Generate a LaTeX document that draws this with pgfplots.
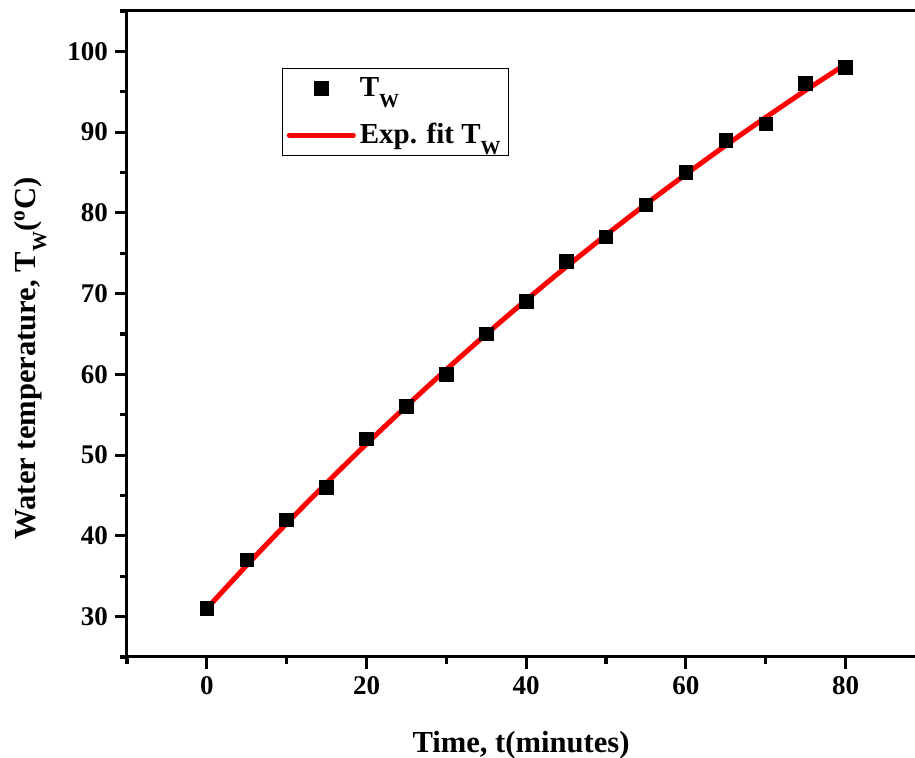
\documentclass[border=0pt]{standalone}
\usepackage{fontspec}
\setmainfont{Liberation Serif}
\usepackage{pgfplots}
\pgfplotsset{compat=1.18}

\definecolor{fitred}{RGB}{255,0,0}
% lowered subscript W, as in the original figure
\newcommand{\subW}{\raisebox{-5.5pt}{\fontsize{10}{10}\selectfont\bfseries W}}

\begin{document}
\begin{tikzpicture}
\begin{axis}[
    width=394pt, height=323pt, scale only axis,
    xmin=-10, xmax=88.7,
    ymin=25, ymax=105,
    axis x line*=bottom,
    axis y line*=left,
    axis line style={line width=1.5pt},
    tick align=outside,
    major tick length=6pt,
    minor tick length=3.5pt,
    every tick/.style={black, line width=1.6pt},
    xtick={0,20,...,80},
    minor xtick={-10,10,30,50,70},
    ytick={30,40,...,100},
    minor ytick={25,35,...,105},
    /pgf/number format/assume math mode=true,
    ticklabel style={font=\bfseries\fontsize{13.5}{16}\selectfont},
    xlabel={\textbf{Time, t(minutes)}},
    ylabel={\textbf{Water temperature, T\subW(\textsuperscript{o}C)}},
    label style={font=\bfseries\fontsize{15.3}{18}\selectfont},
    xlabel style={at={(axis description cs:0.5,-0.136)}, anchor=center},
    ylabel style={at={(axis description cs:-0.123,0.462)}, anchor=center, rotate=0},
    legend style={at={(0.197,0.912)}, anchor=north west, draw=black, line width=0.6pt,
        font=\bfseries\fontsize{14.5}{17}\selectfont, row sep=8pt, inner xsep=2pt, inner ysep=2.5pt},
    legend cell align=left,
    legend image code/.code={\draw[mark repeat=2,mark phase=2,#1] plot coordinates {(0pt,0pt) (16pt,0pt) (32pt,0pt)};},
    clip=false,
]
\addplot[only marks, mark=square*, mark size=3.4pt, black] coordinates {
(0,31) (5,37) (10,42) (15,46) (20,52) (25,56) (30,60) (35,65) (40,69)
(45,74) (50,77) (55,81) (60,85) (65,89) (70,91) (75,96) (80,98)
};
\addlegendentry{T\subW}
\addplot[fitred, line width=2.5pt, smooth, line cap=round] coordinates {
(0,31.0) (5,36.36) (10,41.54) (15,46.55) (20,51.39) (25,56.07) (30,60.60)
(35,64.98) (40,69.21) (45,73.30) (50,77.26) (55,81.08) (60,84.78)
(65,88.36) (70,91.82) (75,95.17) (80,98.40)
};
\addlegendentry{Exp. fit T\subW}
\coordinate (ll) at (rel axis cs:0,0);
\coordinate (ur) at (rel axis cs:1,1);
\draw[line width=1.5pt] (rel axis cs:0,1) -- (rel axis cs:1,1);
\end{axis}
\pgfresetboundingbox
\path ([xshift=-63.5pt,yshift=-50.5pt]ll) rectangle ([yshift=5.5pt]ur);
\end{tikzpicture}
\end{document}
